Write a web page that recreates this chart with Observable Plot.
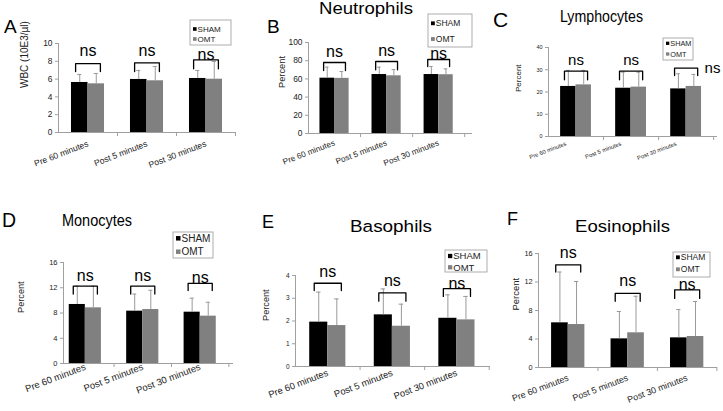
<!DOCTYPE html>
<html><head><meta charset="utf-8">
<script src="https://cdn.jsdelivr.net/npm/d3@7"></script>
<script src="https://cdn.jsdelivr.net/npm/@observablehq/plot@0.6"></script>
<style>
body{margin:0;background:#fff;}
#fig{position:relative;width:723px;height:411px;overflow:hidden;background:#fff;font-family:"Liberation Sans",Arial,sans-serif;}
</style></head><body><div id="fig"></div>
<script>
const categories = ["Pre 60 minutes", "Post 5 minutes", "Post 30 minutes"];
const groups = ["SHAM", "OMT"];
const groupColors = ["#000000", "#808080"];

// A: WBC
const wbcSham = [5.62, 5.96, 6.07];
const wbcOmt = [5.47, 5.81, 5.99];
const wbcShamUpper = [6.52, 6.97, 6.97];
const wbcOmtUpper = [6.63, 7.42, 7.98];
const wbcBracketTop = [7.75, 7.83, 8.17];
const wbcBracketFoot = [6.85, 6.85, 7.16];
const wbcNsY = [8.54, 8.54, 8.2];

// B: Neutrophils
const neuSham = [60.8, 64.8, 64.8];
const neuOmt = [60.6, 63.4, 64.6];
const neuShamUpper = [72.9, 72.9, 73.6];
const neuOmtUpper = [68.1, 70.3, 71.0];
const neuBracketTop = [78.0, 79.1, 81.3];
const neuBracketFoot = [69.2, 70.0, 73.6];
const neuNsY = [84.6, 85.7, 82.4];

// C: Lymphocytes
const lymSham = [22.5, 21.7, 21.4];
const lymOmt = [23.2, 22.2, 22.5];
const lymShamUpper = [29.7, 28.9, 28.2];
const lymOmtUpper = [29.7, 28.9, 27.9];
const lymBracketTop = [29.4, 29.4, 30.7];
const lymBracketFoot = [25.5, 25.5, 27.4];
const lymNsY = [32.2, 32.2, 28.5];
const lymNsShift = [0, 0, 0.48];

// D: Monocytes
const monSham = [9.35, 8.29, 8.13];
const monOmt = [8.82, 8.55, 7.5];
const monShamUpper = [12.25, 11.0, 10.35];
const monOmtUpper = [12.25, 11.6, 9.7];
const monBracketTop = [12.25, 12.25, 12.7];
const monBracketFoot = [11.0, 11.0, 11.55];
const monNsY = [13.1, 13.1, 12.8];

// E: Basophils
const basSham = [1.95, 2.27, 2.12];
const basOmt = [1.8, 1.77, 2.05];
const basShamUpper = [3.27, 3.41, 3.15];
const basOmtUpper = [2.97, 2.74, 3.08];
const basBracketTop = [3.66, 3.24, 3.42];
const basBracketFoot = [3.34, 2.87, 3.08];
const basNsY = [3.93, 3.52, 3.42];

// F: Eosinophils
const eosSham = [6.27, 4.02, 4.16];
const eosOmt = [6.03, 4.87, 4.35];
const eosShamUpper = [13.4, 7.86, 8.14];
const eosOmtUpper = [12.07, 10.0, 9.26];
const eosBracketTop = [14.4, 10.4, 10.9];
const eosBracketFoot = [13.4, 9.3, 9.7];
const eosNsY = [15.3, 11.37, 10.9];

const panels = [
  {letter:"A", title:null, sham:wbcSham, omt:wbcOmt, shamUp:wbcShamUpper, omtUp:wbcOmtUpper, bTop:wbcBracketTop, bFoot:wbcBracketFoot, nsY:wbcNsY,
   left:0, top:0, w:245, h:205, frame:[58,235,43,132], xDomain:[0,3], yMax:10, yStep:2, yLabel:"WBC (10E3/µl)", labelX:20, yLabelFont:10, yFont:8.4, xFont:8.5, xPad:11, nsFont:16,
   letterPos:[4,33,19], legend:[190,20,41,25,8,[29,39]]},
  {letter:"B", title:"Neutrophils", sham:neuSham, omt:neuOmt, shamUp:neuShamUpper, omtUp:neuOmtUpper, bTop:neuBracketTop, bFoot:neuBracketFoot, nsY:neuNsY,
   left:245, top:0, w:240, h:205, frame:[308,472,42,133], xDomain:[0,3.15], yMax:100, yStep:20, yLabel:"Percent", labelX:278, yLabelFont:9.3, yFont:8.4, xFont:8.2, xPad:9, nsFont:16,
   letterPos:[267,33,19], titlePos:[366,14,16,94], legend:[428,14,44,33,8.5,[23.3,39]]},
  {letter:"C", title:"Lymphocytes", sham:lymSham, omt:lymOmt, shamUp:lymShamUpper, omtUp:lymOmtUpper, bTop:lymBracketTop, bFoot:lymBracketFoot, nsY:lymNsY, nsShift:lymNsShift,
   left:485, top:0, w:238, h:205, frame:[548,717,47,136], xDomain:[0,3.07], yMax:40, yStep:10, yLabel:"Percent", labelX:515, yLabelFont:8, yFont:5.5, xFont:5.8, xPad:7, nsFont:15, labelShift:-0.18,
   letterPos:[493,27,21], titlePos:[601.5,21.7,17,83], legend:[663,38,30,22,7.3,[43.3,54]]},
  {letter:"D", title:"Monocytes", sham:monSham, omt:monOmt, shamUp:monShamUpper, omtUp:monOmtUpper, bTop:monBracketTop, bFoot:monBracketFoot, nsY:monNsY,
   left:0, top:205, w:245, h:206, frame:[63,233,262,363], xDomain:[0.12,3.08], yMax:16, yStep:4, yLabel:"Percent", labelX:17, yLabelFont:9.2, yFont:7.5, xFont:9.5, xPad:3, nsFont:16,
   letterPos:[2,227,19.5], titlePos:[97,225.7,17,70], legend:[173,232,40,26,10,[238.3,251.7]]},
  {letter:"E", title:"Basophils", sham:basSham, omt:basOmt, shamUp:basShamUpper, omtUp:basOmtUpper, bTop:basBracketTop, bFoot:basBracketFoot, nsY:basNsY,
   left:245, top:205, w:250, h:206, frame:[295,490,275,366], xDomain:[0,3.02], yMax:4, yStep:1, yLabel:"Percent", labelX:262, yLabelFont:9.2, yFont:6.5, xFont:9.4, xPad:6, nsFont:16,
   letterPos:[262,228,18], titlePos:[391,231.7,16.3,82], legend:[445,250,42,22,9.5,[256,267.3]]},
  {letter:"F", title:"Eosinophils", sham:eosSham, omt:eosOmt, shamUp:eosShamUpper, omtUp:eosOmtUpper, bTop:eosBracketTop, bFoot:eosBracketFoot, nsY:eosNsY,
   left:495, top:205, w:228, h:206, frame:[538,717,253,367], xDomain:[0,3.01], yMax:16, yStep:4, yLabel:"Percent", labelX:512, yLabelFont:9.5, yFont:7.3, xFont:8.9, xPad:10, nsFont:16,
   letterPos:[507,225,18], titlePos:[622.5,231.7,16.3,95], legend:[673,252,37,25,8.5,[257.3,269.3]]}
];

const BAR = 0.28, BRACKET = 0.21, CAP = 0.035, ROTATE = -21;
const fig = document.getElementById("fig");
const FONT = "Liberation Sans, Arial, sans-serif";

for (const p of panels) {
  const rows = [];
  categories.forEach((c, i) => {
    rows.push({i, g: groups[0], v: p.sham[i], up: p.shamUp[i], x1: i + 0.5 - BAR, x2: i + 0.5, xc: i + 0.5 - BAR / 2});
    rows.push({i, g: groups[1], v: p.omt[i], up: p.omtUp[i], x1: i + 0.5, x2: i + 0.5 + BAR, xc: i + 0.5 + BAR / 2});
  });
  const br = [];
  categories.forEach((c, i) => {
    const a = i + 0.5 - BRACKET, b = i + 0.5 + BRACKET;
    br.push({k: i, x: a, y: p.bFoot[i]}, {k: i, x: a, y: p.bTop[i]}, {k: i, x: b, y: p.bTop[i]}, {k: i, x: b, y: p.bFoot[i]});
  });
  const ns = categories.map((c, i) => ({x: i + 0.5 + (p.nsShift ? p.nsShift[i] : 0), y: p.nsY[i]}));
  const catLabels = categories.map((c, i) => ({label: c, x: i + 0.5 + (p.labelShift || 0)}));
  const [L, R, T, B] = p.frame;
  const tickLen = p.yMax * 4 / (B - T);
  const svg = Plot.plot({
    width: p.w, height: p.h,
    marginLeft: L - p.left, marginRight: p.left + p.w - R, marginTop: T - p.top, marginBottom: p.top + p.h - B,
    style: {background: "transparent", fontFamily: FONT, fontSize: p.yFont + "px", color: "#222", overflow: "visible"},
    x: {domain: p.xDomain, axis: null},
    y: {domain: [0, p.yMax], ticks: d3.range(0, p.yMax + p.yStep / 2, p.yStep), tickFormat: d => String(d), tickSize: 3, tickPadding: 3, label: null},
    marks: [
      Plot.rectY(rows.filter(d => d.g === groups[0]), {x1: "x1", x2: "x2", y: "v", fill: groupColors[0]}),
      Plot.rectY(rows.filter(d => d.g === groups[1]), {x1: "x1", x2: "x2", y: "v", fill: groupColors[1]}),
      Plot.ruleX(rows, {x: "xc", y1: "v", y2: "up", stroke: "#9a9a9a", strokeWidth: 1}),
      Plot.ruleY(rows, {y: "up", x1: d => d.xc - CAP, x2: d => d.xc + CAP, stroke: "#9a9a9a", strokeWidth: 1}),
      Plot.ruleY([0], {stroke: "#a0a0a0"}),
      Plot.ruleX([p.xDomain[0]], {stroke: "#a0a0a0"}),
      Plot.ruleX([1, 2, 3].filter(v => v <= p.xDomain[1]), {y1: 0, y2: -tickLen, stroke: "#a0a0a0"}),
      Plot.text(catLabels, {x: "x", y: () => 0, text: "label", rotate: ROTATE, textAnchor: "end", lineAnchor: "middle", dy: p.xPad, fontSize: p.xFont, fill: "#222"}),
      Plot.line(br, {x: "x", y: "y", z: "k", stroke: "#000", strokeWidth: 1.3}),
      Plot.text(ns, {x: "x", y: "y", text: () => "ns", fontSize: p.nsFont, lineAnchor: "bottom", fill: "#000"}),
      Plot.text([p.yLabel], {text: d => d, frameAnchor: "left", rotate: -90, dx: p.labelX - L, lineAnchor: "top", fontSize: p.yLabelFont, fill: "#222"})
    ]
  });
  svg.style.position = "absolute";
  svg.style.left = p.left + "px";
  svg.style.top = p.top + "px";
  svg.style.maxWidth = "none";
  svg.querySelectorAll('[aria-label^="y-axis"] line, [aria-label^="y-axis"] path').forEach(t => { t.style.stroke = "#a0a0a0"; });
  fig.appendChild(svg);
}

// overlay: panel letters, titles, legends
const ov = d3.select(fig).append("svg")
  .attr("width", 723).attr("height", 411)
  .style("position", "absolute").style("left", "0px").style("top", "0px")
  .style("font-family", FONT);
for (const p of panels) {
  const [lx, ly, lf] = p.letterPos;
  ov.append("text").attr("x", lx).attr("y", ly).attr("font-size", lf).attr("fill", "#000").text(p.letter);
  if (p.title) {
    const [tx, ty, tf, tw] = p.titlePos;
    ov.append("text").attr("x", tx - tw / 2).attr("y", ty).attr("font-size", tf).attr("fill", "#000")
      .attr("textLength", tw).attr("lengthAdjust", "spacingAndGlyphs").text(p.title);
  }
  const [bx, by, bw, bh, bf, rowsY] = p.legend;
  ov.append("rect").attr("x", bx).attr("y", by).attr("width", bw).attr("height", bh)
    .attr("fill", "#fff").attr("stroke", "#9a9a9a").attr("stroke-width", 0.8);
  groups.forEach((g, k) => {
    const s = bf * 0.45;
    ov.append("rect").attr("x", bx + 3).attr("y", rowsY[k] - s / 2).attr("width", s).attr("height", s).attr("fill", groupColors[k]);
    ov.append("text").attr("x", bx + 4 + s).attr("y", rowsY[k]).attr("dy", "0.35em")
      .attr("font-size", bf).attr("fill", "#222").text(g);
  });
}
</script>
</body></html>
